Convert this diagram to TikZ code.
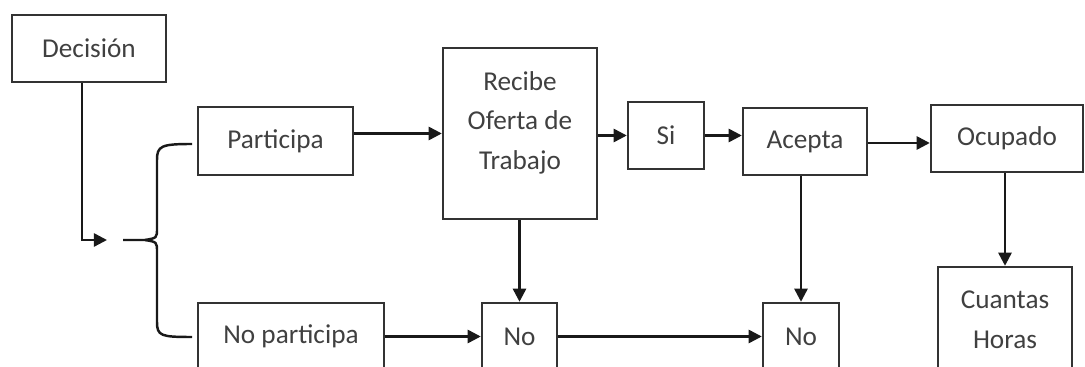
\documentclass[tikz,border=0pt]{standalone}
\usepackage{fontspec}
\setmainfont{Carlito}
\usepackage{tikz}
\usetikzlibrary{arrows.meta, calc}
\tikzset{
	caja/.style={draw=black!80, line width=1.4pt, inner sep=0pt, text=black!75, align=center,
		font=\fontsize{15.5}{22.5}\selectfont},
	flecha/.style={draw=black!90, line width=1.4pt, -{Triangle[length=7.5pt,width=7.5pt]}},
	linea/.style={draw=black!90, line width=1.4pt}
}
\begin{document}
\begin{tikzpicture}[x=0.02cm,y=-0.02cm]
			\useasboundingbox (0,0) rectangle (1085,367);
			\clip (0,0) rectangle (1085,367);
			
			\node[caja, minimum width=3.08cm, minimum height=1.34cm] (dec) at (89,48.5) {Decisión};
			\node[caja, minimum width=3.1cm, minimum height=1.36cm] (part) at (275.5,141) {Participa};
			\node[caja, minimum width=3.72cm, minimum height=1.34cm] (nopart) at (291,336.5) {No participa};
			\node[caja, minimum width=3.08cm, minimum height=3.42cm, text depth=15pt] (recibe) at (520,133.5) {Recibe\\Oferta de\\Trabajo};
			\node[caja, minimum width=1.52cm, minimum height=1.34cm] (si) at (666,135.5) {Si};
			\node[caja, minimum width=2.48cm, minimum height=1.34cm] (acepta) at (805,141.5) {Acepta};
			\node[caja, minimum width=3.04cm, minimum height=1.34cm] (ocup) at (1007,138.5) {Ocupado};
			\node[caja, minimum width=1.5cm, minimum height=1.34cm] (no1) at (519.5,336.5) {No};
			\node[caja, minimum width=1.52cm, minimum height=1.34cm] (no2) at (801,336.5) {No};
			\node[caja, minimum width=2.68cm, minimum height=2.12cm] (horas) at (1005,320) {Cuantas\\Horas};
			
			% llave
			\coordinate (giro) at (82,240);
			\coordinate (punta) at (107,240);
			\draw[flecha] (giro |- dec.south) -- (giro) -- (punta);
			\draw[linea] (192,144) .. controls (161,144) and (157,146) .. (157,160) -- (157,228)
				.. controls (157,238) .. (145,240) -- (123,240);
			\draw[linea] (145,240) .. controls (157,242) .. (157,252) -- (157,322)
				.. controls (157,336) and (161,337) .. (192,337);
			
			\draw[flecha] (part.east |- recibe.west) -- (recibe.west);
			\draw[flecha] (recibe.east |- si.west) -- (si.west);
			\draw[flecha] (si.east) -- (si.east -| acepta.west);
			\draw[flecha] ($(acepta.east)+(0,1.5)$) -- ($(acepta.east -| ocup.west)+(0,1.5)$);
			\draw[flecha] (no1 |- recibe.south) -- (no1.north);
			\draw[flecha] (no2 |- acepta.south) -- (no2.north);
			\draw[flecha] (horas |- ocup.south) -- (horas.north);
			\draw[flecha] (nopart.east) -- (no1.west);
			\draw[flecha] (no1.east) -- (no2.west);
		\end{tikzpicture}
\end{document}
